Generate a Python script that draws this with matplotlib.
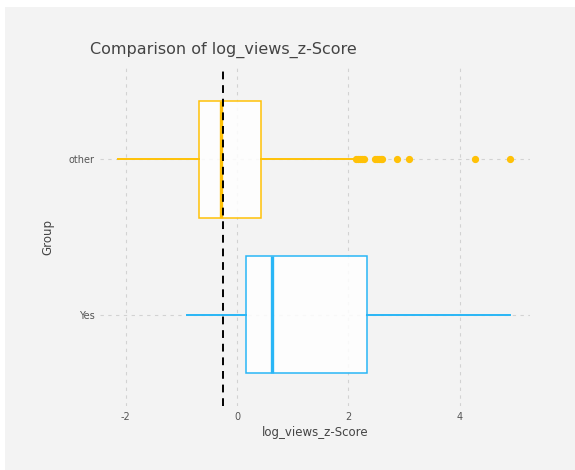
import matplotlib
matplotlib.use('Agg')
from matplotlib import pyplot as plt
from matplotlib.patches import Rectangle

# box summaries per group (log_views z-score)
groups = ['Yes', 'other']
colors = ['#29b6f6', '#ffc107']
whisker_low = [-0.90, -2.13]
q1 = [0.17, -0.68]
median = [0.62, -0.29]
q3 = [2.33, 0.43]
whisker_high = [4.90, 2.08]
outliers_yes = []
outliers_other = [2.13, 2.17, 2.21, 2.25, 2.28, 2.47, 2.51, 2.55, 2.58, 2.61, 2.87, 3.09, 4.27, 4.90]
overall_mean = -0.26

x_ticks = [-2, 0, 2, 4]


fig = plt.figure(figsize=(5.75, 4.7), dpi=100)
fig.patch.set_facecolor('white')
fig.patches.append(Rectangle((5/575, 0), 1, 1 - 7/470, transform=fig.transFigure,
                             facecolor='#f3f3f3', edgecolor='none', zorder=-10))

ax = fig.add_axes([100/575, 64/470, 430/575, 338/470])
ax.set_facecolor('#f3f3f3')
ax.patch.set_alpha(0)

stats = []
fliers = [outliers_yes, outliers_other]
for i in range(len(groups)):
	stats.append({'whislo': whisker_low[i], 'q1': q1[i], 'med': median[i],
	              'q3': q3[i], 'whishi': whisker_high[i], 'fliers': fliers[i]})

for i, s in enumerate(stats):
	c = colors[i]
	ax.bxp([s], positions=[i], vert=False, widths=0.75, patch_artist=True,
	       showcaps=False,
	       boxprops=dict(facecolor=(1, 1, 1, 0.85), edgecolor=c, linewidth=1.1),
	       medianprops=dict(color=c, linewidth=2.4),
	       whiskerprops=dict(color=c, linewidth=1.4),
	       flierprops=dict(marker='o', markerfacecolor=c, markeredgecolor=c,
	                       markersize=4.2, linestyle='none'),
	       zorder=3)

ax.axvline(overall_mean, color='black', linestyle=(0, (4, 3)), linewidth=1.4, zorder=4)

ax.set_xlim(-2.46, 5.26)
ax.set_ylim(-0.59, 1.59)
ax.set_xticks(x_ticks)
ax.set_xticklabels([str(t) for t in x_ticks])
ax.set_yticks(range(len(groups)))
ax.set_yticklabels(groups)
ax.grid(True, color='#d2d2d2', linestyle=(0, (3, 4)), linewidth=0.8, zorder=0)
ax.set_axisbelow(True)
for sp in ax.spines.values():
	sp.set_visible(False)
ax.tick_params(length=0, labelsize=7, labelcolor='#555555', pad=4)

ax.set_xlabel('log_views_z-Score', fontsize=8.5, color='#444444', labelpad=3)
ax.set_ylabel('Group', fontsize=8.5, color='#444444', labelpad=10)

fig.text(90/575, 1 - 50/470, 'Comparison of log_views_z-Score', fontsize=11.5,
         color='#444444', va='center', ha='left')

plt.savefig('out.png', format='png')
